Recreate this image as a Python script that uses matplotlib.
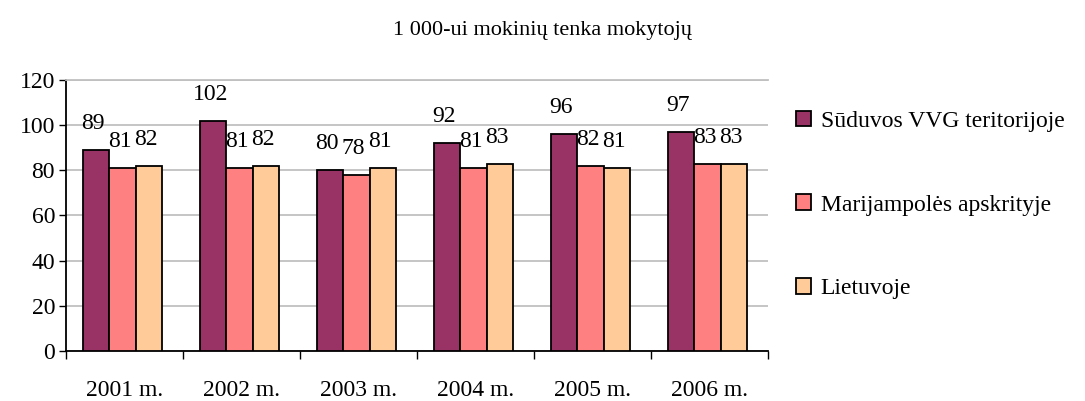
import matplotlib.pyplot as plt
import numpy as np

plt.rcParams['font.family'] = ['Liberation Serif', 'DejaVu Serif']

years = ['2001 m.', '2002 m.', '2003 m.', '2004 m.', '2005 m.', '2006 m.']
series_names = ['Sūduvos VVG teritorijoje', 'Marijampolės apskrityje', 'Lietuvoje']
suduvos = [89, 102, 80, 92, 96, 97]
marijampole = [81, 81, 78, 81, 82, 83]
lietuva = [82, 82, 81, 83, 81, 83]

colors = ['#993366', '#FF8080', '#FFCC99']

fig = plt.figure(figsize=(10.85, 4.01), dpi=100)
ax = fig.add_axes([0.061, 0.1247, 0.647, 0.676])

x = np.arange(len(years))
w = 0.225
for i, (vals, col, name) in enumerate(zip([suduvos, marijampole, lietuva], colors, series_names)):
    pos = x + (i - 1) * w - 0.02
    bars = ax.bar(pos, vals, width=w, color=col, edgecolor='black', linewidth=1.3,
                  label=name, zorder=3)
    for xp, v in zip(pos, vals):
        ax.annotate(str(v), (xp, v), xytext=(-2, 19), textcoords='offset points',
                    ha='center', va='center', fontsize=17)

ax.set_ylim(0, 120)
ax.set_xlim(-0.5, len(years) - 0.5)
ax.set_yticks(range(0, 121, 20))
ax.tick_params(axis='y', labelsize=17, length=5, width=1, pad=3)
ax.set_xticks(x)
ax.set_xticklabels(years, fontsize=17)
ax.tick_params(axis='x', length=0, pad=21)
ax.set_xticks(np.arange(-0.5, len(years)), minor=True)
ax.tick_params(axis='x', which='minor', length=6, width=1)

ax.yaxis.grid(True, color='#C0C0C0', linewidth=1.3, zorder=0)
ax.set_axisbelow(True)
ax.spines['right'].set_visible(False)
ax.spines['top'].set_color('#C0C0C0')
ax.spines['top'].set_linewidth(1.3)
ax.spines['left'].set_linewidth(1.3)
ax.spines['bottom'].set_linewidth(1.3)

fig.text(0.5, 0.925, '1 000-ui mokinių tenka mokytojų', ha='center', va='center', fontsize=16)

fig.legend(loc='upper left', bbox_to_anchor=(0.714, 0.777), frameon=False, fontsize=17,
           labelspacing=2.65, handlelength=0.65, handleheight=0.65, handletextpad=0.4)

fig.savefig('out.png', dpi=100)
